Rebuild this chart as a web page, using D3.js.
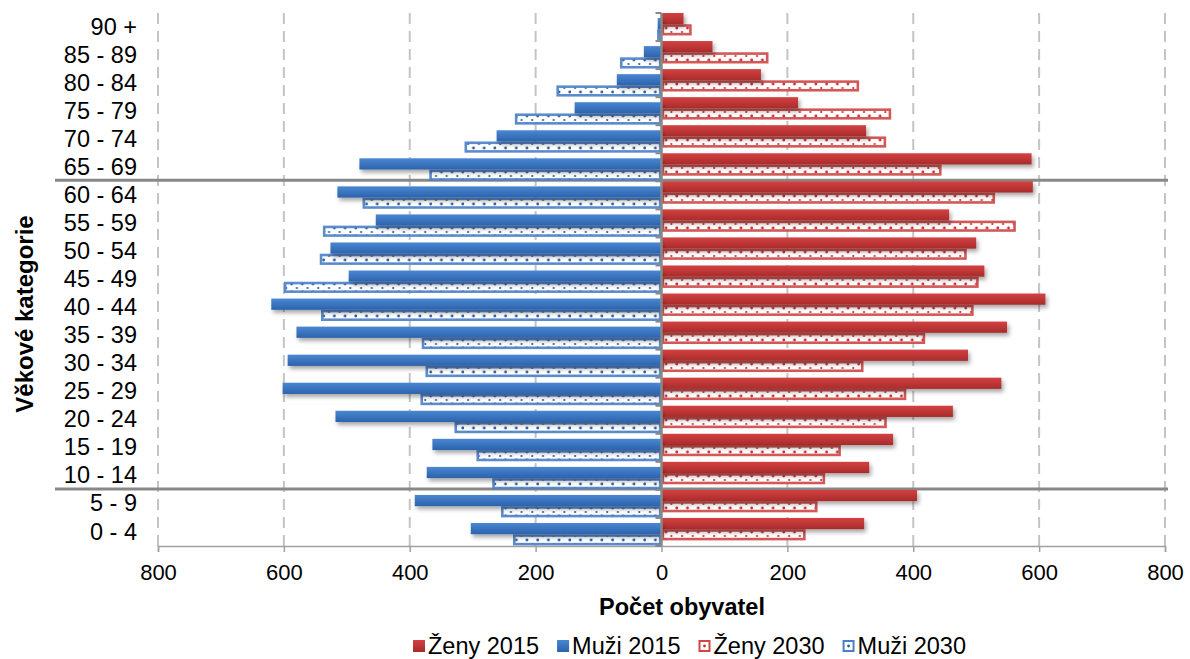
<!DOCTYPE html>
<html>
<head>
<meta charset="utf-8">
<script src="https://cdn.jsdelivr.net/npm/d3@7"></script>
<style>
  body { margin: 0; background: #fff; }
  svg { display: block; font-family: "Liberation Sans", Arial, sans-serif; }
</style>
</head>
<body>
<svg id="chart" width="1190" height="659"></svg>
<script>
// age groups, bottom to top
const categories = ["0 - 4", "5 - 9", "10 - 14", "15 - 19", "20 - 24", "25 - 29", "30 - 34", "35 - 39",
  "40 - 44", "45 - 49", "50 - 54", "55 - 59", "60 - 64", "65 - 69", "70 - 74", "75 - 79", "80 - 84", "85 - 89", "90 +"];
const zeny2015 = [322, 406, 330, 368, 463, 540, 487, 549, 610, 513, 500, 457, 590, 588, 325, 217, 158, 81, 35];
const muzi2015 = [303, 392, 373, 364, 518, 602, 594, 580, 620, 497, 526, 454, 515, 480, 262, 138, 71, 28, 6];
const zeny2030 = [229, 248, 260, 285, 358, 389, 321, 419, 496, 504, 485, 563, 530, 445, 357, 365, 314, 170, 48];
const muzi2030 = [236, 255, 269, 294, 329, 383, 375, 381, 541, 600, 543, 538, 475, 369, 313, 233, 167, 66, 7];
const xTicks = [-800, -600, -400, -200, 0, 200, 400, 600, 800];
const separators = ["60 - 64", "5 - 9"];
const legendItems = ["Ženy 2015", "Muži 2015", "Ženy 2030", "Muži 2030"];

const svg = d3.select("#chart");
const plotTop = 13, plotBottom = 546;

const x = d3.scaleLinear().domain([-800, 800]).range([158, 1165]);
const y = d3.scaleBand().domain(categories.slice().reverse()).range([plotTop, plotBottom]);
const bw = y.bandwidth();
const barH = bw * 0.4;

// defs: gradients, patterns, shadow
const defs = svg.append("defs");
function grad(id, c1, c2) {
  const g = defs.append("linearGradient").attr("id", id).attr("x1", 0).attr("y1", 0).attr("x2", 0).attr("y2", 1);
  g.append("stop").attr("offset", "0%").attr("stop-color", c1);
  g.append("stop").attr("offset", "100%").attr("stop-color", c2);
}
grad("gRed", "#D44141", "#A82B2B");
grad("gBlue", "#4A87D2", "#2C62AC");
function dots(id, c) {
  const p = defs.append("pattern").attr("id", id).attr("patternUnits", "userSpaceOnUse")
    .attr("width", 10.7).attr("height", 8);
  p.append("rect").attr("width", 10.7).attr("height", 8).attr("fill", "#fff");
  p.append("circle").attr("cx", 2.7).attr("cy", 4).attr("r", 1.4).attr("fill", c);
  p.append("circle").attr("cx", 8).attr("cy", 0).attr("r", 1.1).attr("fill", c);
  p.append("circle").attr("cx", 8).attr("cy", 8).attr("r", 1.1).attr("fill", c);
}
dots("pRed", "#C83030");
dots("pBlue", "#2F5E9E");
defs.append("filter").attr("id", "shadow").attr("x", "-5%").attr("y", "-50%").attr("width", "110%").attr("height", "220%")
  .append("feDropShadow").attr("dx", 2).attr("dy", 3).attr("stdDeviation", 2)
  .attr("flood-color", "#000").attr("flood-opacity", 0.35);

// grid lines
svg.append("g").selectAll("line")
  .data(xTicks.filter(d => d !== 0))
  .enter().append("line")
  .attr("x1", d => x(d)).attr("x2", d => x(d))
  .attr("y1", plotTop).attr("y2", plotBottom)
  .attr("stroke", "#c4c4c4").attr("stroke-width", 2).attr("stroke-dasharray", "11,7");

// bottom axis
const xAxis = svg.append("g")
  .attr("transform", `translate(0,${plotBottom})`)
  .call(d3.axisBottom(x).tickValues(xTicks).tickFormat(d => Math.abs(d)).tickSize(6).tickPadding(12));
xAxis.select(".domain").attr("stroke", "#a0a0a0").attr("stroke-width", 1.5);
xAxis.selectAll(".tick line").attr("stroke", "#a0a0a0").attr("stroke-width", 1.5);
xAxis.selectAll("text").style("font-size", "22px").attr("fill", "#000");

// category labels
const yAxis = svg.append("g")
  .attr("transform", `translate(141,0)`)
  .call(d3.axisLeft(y).tickSize(0).tickPadding(4));
yAxis.select(".domain").remove();
yAxis.selectAll("text").style("font-size", "23.5px").attr("fill", "#000");

// separator lines
svg.append("g").selectAll("line")
  .data(separators)
  .enter().append("line")
  .attr("x1", 55).attr("x2", 1168)
  .attr("y1", d => y(d) - 1).attr("y2", d => y(d) - 1)
  .attr("stroke", "#888").attr("stroke-width", 3);

// bars
function solidBars(vals, sign, fill, off) {
  svg.append("g").attr("filter", "url(#shadow)").selectAll("rect")
    .data(categories.map((c, i) => ({ c, v: vals[i] })))
    .enter().append("rect")
    .attr("x", d => Math.min(x(0), x(sign * d.v)))
    .attr("width", d => Math.abs(x(sign * d.v) - x(0)))
    .attr("y", d => y(d.c) + off)
    .attr("height", barH)
    .attr("fill", fill);
}
function dottedBars(vals, sign, fill, stroke, off) {
  svg.append("g").selectAll("rect")
    .data(categories.map((c, i) => ({ c, v: vals[i] })))
    .enter().append("rect")
    .attr("x", d => Math.min(x(0), x(sign * d.v)) + 1.3)
    .attr("width", d => Math.max(0, Math.abs(x(sign * d.v) - x(0)) - 2.6))
    .attr("y", d => y(d.c) + off + barH + 1.3)
    .attr("height", barH - 2.6)
    .attr("fill", fill)
    .attr("stroke", stroke).attr("stroke-width", 2.6).attr("stroke-opacity", 0.9);
}
const blueOff = bw * 0.18;
dottedBars(zeny2030, 1, "url(#pRed)", "#CE4646", 0);
dottedBars(muzi2030, -1, "url(#pBlue)", "#4A7FC6", blueOff);
solidBars(zeny2015, 1, "url(#gRed)", 0);
solidBars(muzi2015, -1, "url(#gBlue)", blueOff);

// centre axis with ticks at band edges
const edges = categories.map(c => y(c)).concat([y(categories[0]) + bw]);
svg.append("g").selectAll("line")
  .data(edges)
  .enter().append("line")
  .attr("x1", x(0) - 6).attr("x2", x(0))
  .attr("y1", d => d).attr("y2", d => d)
  .attr("stroke", "#888").attr("stroke-width", 2);
svg.append("line")
  .attr("x1", x(0)).attr("x2", x(0)).attr("y1", plotTop).attr("y2", plotBottom)
  .attr("stroke", "#888").attr("stroke-width", 2.5);

// axis titles
svg.append("text")
  .attr("x", 682).attr("y", 615)
  .attr("text-anchor", "middle")
  .style("font-size", "23.5px").style("font-weight", "bold")
  .text("Počet obyvatel");
svg.append("text")
  .attr("transform", "translate(33,314) rotate(-90)")
  .attr("text-anchor", "middle")
  .style("font-size", "24px").style("font-weight", "bold")
  .text("Věkové kategorie");

// legend
const legend = svg.append("g");
let lx = 413;
legendItems.forEach((name, i) => {
  const fill = ["url(#gRed)", "url(#gBlue)", "url(#pRed)", "url(#pBlue)"][i];
  const g = legend.append("g").attr("transform", `translate(${lx},0)`);
  if (i < 2) {
    g.append("rect").attr("x", 0).attr("y", 640).attr("width", 12).attr("height", 12).attr("fill", fill);
  } else {
    g.append("rect").attr("x", 1).attr("y", 641).attr("width", 10).attr("height", 10)
      .attr("fill", "#fff").attr("stroke", i === 2 ? "#CE4646" : "#4A7FC6").attr("stroke-width", 2);
    g.append("circle").attr("cx", 6).attr("cy", 646).attr("r", 1.4).attr("fill", i === 2 ? "#C83030" : "#2F5E9E");
  }
  const t = g.append("text").attr("x", 15).attr("y", 654)
    .style("font-size", "23.5px").attr("fill", "#000").text(name);
  lx += 15 + t.node().getComputedTextLength() + 18;
});
</script>
</body>
</html>
